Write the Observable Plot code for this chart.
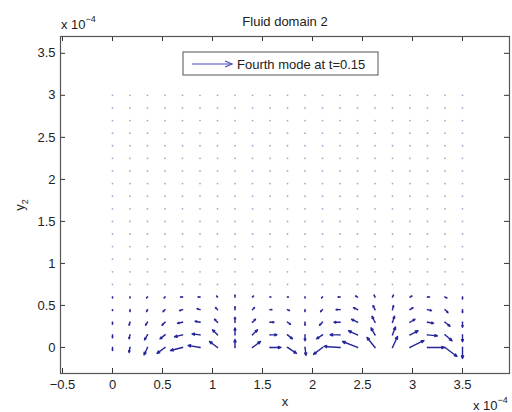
<!DOCTYPE html>
<html>
<head>
<meta charset="utf-8">
<script src="https://cdn.jsdelivr.net/npm/d3@7"></script>
<script src="https://cdn.jsdelivr.net/npm/@observablehq/plot@0.6"></script>
<style>
  body { margin: 0; background: #fff; }
  svg { display: block; }
</style>
</head>
<body>
<div id="chart"></div>
<script>
// ---- data (x, y in units of 1e-4) ----
const xGrid = [0, 0.175, 0.35, 0.525, 0.7, 0.875, 1.05, 1.225, 1.4, 1.575, 1.75,
               1.925, 2.1, 2.275, 2.45, 2.625, 2.8, 2.975, 3.15, 3.325, 3.5];
const yGrid = [0, 0.15, 0.3, 0.45, 0.6, 0.75, 0.9, 1.05, 1.2, 1.35, 1.5,
               1.65, 1.8, 1.95, 2.1, 2.25, 2.4, 2.55, 2.7, 2.85, 3.0];

// drawn arrow components (after quiver auto-scaling) for the lowest rows
const uRow0 = [0, -0.01, -0.035, -0.08, -0.12, -0.12, -0.08, 0, 0.08, 0.11, 0.09,
               0.01, -0.09, -0.16, -0.15, -0.08, 0.05, 0.14, 0.17, 0.12, 0];
const vRow0 = [-0.036, -0.06, -0.089, -0.071, -0.036, 0.024, 0.071, 0.095, 0.071, 0, -0.071,
               -0.095, -0.083, 0.012, 0.071, 0.119, 0.131, 0.083, 0, -0.107, -0.131];
const uRow1 = [0, -0.01, -0.03, -0.05, -0.08, -0.08, -0.05, 0, 0.05, 0.07, 0.05,
               0, -0.06, -0.10, -0.09, -0.04, 0.03, 0.08, 0.10, 0.07, 0];
const vRow1 = [-0.036, -0.048, -0.06, -0.048, -0.024, 0.012, 0.06, 0.083, 0.06, 0, -0.048,
               -0.071, -0.048, 0, 0.048, 0.083, 0.095, 0.048, -0.012, -0.071, -0.083];
const uRow2 = [0, -0.01, -0.02, -0.03, -0.05, -0.05, -0.03, 0, 0.03, 0.04, 0.03,
               0, -0.03, -0.06, -0.06, -0.03, 0.02, 0.05, 0.06, 0.05, 0];
const vRow2 = [-0.024, -0.036, -0.036, -0.036, -0.012, 0.012, 0.036, 0.06, 0.036, 0, -0.024,
               -0.036, -0.036, 0, 0.036, 0.071, 0.071, 0.036, -0.012, -0.048, -0.06];
const uRow3 = [0, 0, -0.01, -0.02, -0.03, -0.03, -0.02, 0, 0.02, 0.02, 0.02,
               0, -0.02, -0.04, -0.04, -0.02, 0.01, 0.03, 0.04, 0.03, 0];
const vRow3 = [-0.012, -0.024, -0.024, -0.024, -0.012, 0.012, 0.024, 0.036, 0.024, 0, -0.012,
               -0.024, -0.024, 0, 0.024, 0.048, 0.048, 0.024, -0.012, -0.036, -0.036];
const uRow4 = [0, 0, -0.01, -0.01, -0.02, -0.02, -0.01, 0, 0.01, 0.01, 0.01,
               0, -0.01, -0.02, -0.02, -0.01, 0.01, 0.02, 0.02, 0.02, 0];
const vRow4 = [-0.012, -0.012, -0.012, -0.012, 0, 0, 0.012, 0.024, 0.012, 0, 0,
               -0.012, -0.012, 0, 0.012, 0.024, 0.024, 0.012, 0, -0.012, -0.024];
const uRows = [uRow0, uRow1, uRow2, uRow3, uRow4];
const vRows = [vRow0, vRow1, vRow2, vRow3, vRow4];

const xTicks = [-0.5, 0, 0.5, 1, 1.5, 2, 2.5, 3, 3.5];
const yTicks = [0, 0.5, 1, 1.5, 2, 2.5, 3, 3.5];
const titleText = "Fluid domain 2";
const legendText = "Fourth mode at t=0.15";
const xLabel = "x";
const yLabel = "y";
const yLabelSub = "2";
const expBase = "x 10";
const expPow = "−4";

// ---- tables ----
const grid = [];
yGrid.forEach(y => xGrid.forEach(x => grid.push({x, y})));
const arrows = [];
uRows.forEach((row, j) => row.forEach((u, i) => {
  arrows.push({x: xGrid[i], y: yGrid[j], u, v: vRows[j][i]});
}));

const W = 512, H = 412, mL = 60, mR = 3, mT = 36, mB = 39;
const innerW = W - mL - mR, innerH = H - mT - mB;
const tickLen = 5;
const fmt = d => (d < 0 ? "−" + Math.abs(d) : String(d));
const axisColor = "#333";
const arrowColor = "#26269a";

const svg = Plot.plot({
  width: W, height: H,
  marginLeft: mL, marginRight: mR, marginTop: mT, marginBottom: mB,
  style: {fontFamily: "'Liberation Sans', Arial, sans-serif", fontSize: "13px", color: "#222", background: "#fff"},
  x: {domain: [-0.52, 3.97]},
  y: {domain: [-0.31, 3.70]},
  marks: [
    Plot.dot(grid, {x: "x", y: "y", r: 0.9, fill: "#6b6bb8", fillOpacity: 0.6}),
    Plot.arrow(arrows, {
      x1: "x", y1: "y",
      x2: d => d.x + d.u, y2: d => d.y + d.v,
      stroke: arrowColor, strokeWidth: 1.4, headLength: 3, headAngle: 45
    }),
    Plot.tickX(xTicks, {x: d => d, insetTop: innerH - tickLen, stroke: axisColor}),
    Plot.tickX(xTicks, {x: d => d, insetBottom: innerH - tickLen, stroke: axisColor}),
    Plot.tickY(yTicks, {y: d => d, insetRight: innerW - tickLen, stroke: axisColor}),
    Plot.tickY(yTicks, {y: d => d, insetLeft: innerW - tickLen, stroke: axisColor}),
    Plot.axisX({ticks: xTicks, tickSize: 0, tickPadding: 6, tickFormat: fmt, label: null}),
    Plot.axisY({ticks: yTicks, tickSize: 0, tickPadding: 5, tickFormat: fmt, label: null}),
    Plot.frame({stroke: "#555", strokeWidth: 1.2})
  ]
});

const s = d3.select(svg);
const font = "'Liberation Sans', Arial, sans-serif";
function txt(x, y, anchor, size) {
  return s.append("text").attr("x", x).attr("y", y).attr("text-anchor", anchor)
    .attr("font-family", font).attr("font-size", size).attr("fill", "#222");
}
// title
txt(285, 26, "middle", 13).text(titleText);
// exponent labels
const e1 = txt(61, 29, "start", 13);
e1.append("tspan").text(expBase);
e1.append("tspan").attr("font-size", 9).attr("dy", -7).text(expPow);
const e2 = txt(473, 410, "start", 13);
e2.append("tspan").text(expBase);
e2.append("tspan").attr("font-size", 9).attr("dy", -7).text(expPow);
// axis labels
txt(285, 406, "middle", 13).text(xLabel);
const yl = s.append("text").attr("transform", "translate(24,205) rotate(-90)")
  .attr("text-anchor", "middle").attr("font-family", font).attr("font-size", 13).attr("fill", "#222");
yl.append("tspan").text(yLabel);
yl.append("tspan").attr("font-size", 9).attr("dy", 4).text(yLabelSub);
// legend
const lg = s.append("g");
lg.append("rect").attr("x", 183).attr("y", 52).attr("width", 195).attr("height", 23)
  .attr("fill", "#fff").attr("stroke", "#555").attr("stroke-width", 1);
lg.append("line").attr("x1", 192).attr("y1", 64).attr("x2", 232).attr("y2", 64)
  .attr("stroke", "#4b4bc0").attr("stroke-width", 1.2);
lg.append("path").attr("d", "M225,61L232,64L225,67")
  .attr("fill", "none").attr("stroke", "#4b4bc0").attr("stroke-width", 1.2);
txt(237, 68.5, "start", 13).text(legendText);

document.getElementById("chart").appendChild(svg);
</script>
</body>
</html>
